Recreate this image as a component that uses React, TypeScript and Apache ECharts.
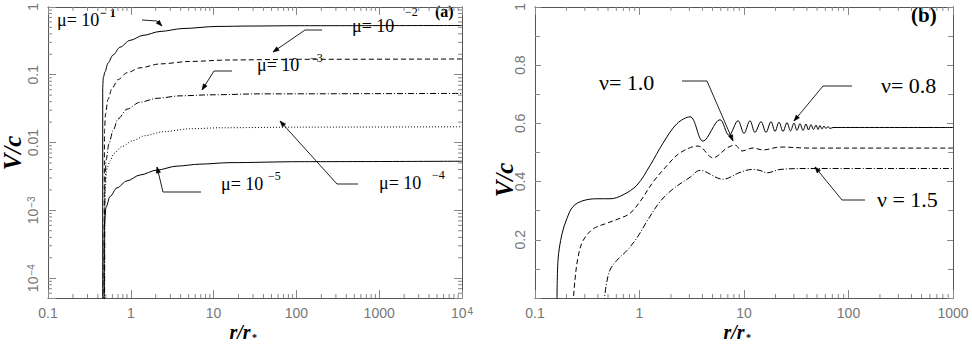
import React, { useEffect, useRef } from "react";
import * as echarts from "echarts";

// ---------------- Panel (a): V/c vs r/r* for several mu (log-log) ----------------
const mu1e1: [number, number][] = [
  [0.4576, 2e-5], [0.458, 0.0648], [0.4654, 0.0905], [0.488, 0.1105], [0.5305, 0.149],
  [0.6095, 0.195], [0.7407, 0.2545], [0.978, 0.321], [1.404, 0.38], [2.253, 0.434],
  [4.27, 0.48], [10.99, 0.515], [27.5, 0.522], [110, 0.528], [10000, 0.532],
];
const mu1e2: [number, number][] = [
  [0.4745, 2e-5], [0.4812, 0.015], [0.4948, 0.0263], [0.5305, 0.0434], [0.5928, 0.0627],
  [0.7005, 0.0846], [0.8997, 0.1069], [1.291, 0.1263], [2.253, 0.1443], [5.188, 0.157],
  [15.78, 0.165], [110, 0.1688], [10000, 0.1705],
];
const mu1e3: [number, number][] = [
  [0.4812, 2e-5], [0.488, 0.0025], [0.5018, 0.00548], [0.5454, 0.00967], [0.6095, 0.01493],
  [0.7005, 0.0223], [0.8997, 0.0311], [1.291, 0.0393], [2.072, 0.0449], [3.929, 0.0488],
  [9.05, 0.0505], [36.3, 0.0522], [10000, 0.053],
];
const mu1e4: [number, number][] = [
  [0.4812, 2e-5], [0.4848, 0.001], [0.488, 0.00201], [0.516, 0.0042], [0.5608, 0.0053],
  [0.6267, 0.00693], [0.7831, 0.00875], [1.063, 0.01069], [1.484, 0.01263], [2.448, 0.01443],
  [5.188, 0.01595], [11.95, 0.0165], [110, 0.01688], [10000, 0.01705],
];
const mu1e5: [number, number][] = [
  [0.4745, 2e-5], [0.476, 0.000344], [0.4812, 0.00067], [0.5018, 0.00111], [0.5608, 0.0016],
  [0.6813, 0.00215], [0.8997, 0.00272], [1.291, 0.00332], [2.072, 0.00393], [3.614, 0.00449],
  [6.849, 0.0048], [15.78, 0.00505], [110, 0.00522], [10000, 0.0053],
];

// ---------------- Panel (b): V/c vs r/r* for several nu (log-lin) ----------------
const nu10: [number, number][] = [
  [0.1624, -0.02], [0.166, 0.1297], [0.1813, 0.2203], [0.2025, 0.2739], [0.231, 0.3141],
  [0.2879, 0.3342], [0.392, 0.3409], [0.5221, 0.3409], [0.6951, 0.3543], [0.9465, 0.3879],
  [1.26, 0.4549], [1.679, 0.532], [2.285, 0.599], [3.043, 0.6225], [4.053, 0.5387],
  [5.892, 0.6125], [7.186, 0.5588], [8.76, 0.609], [10.0, 0.5655], [11.41, 0.609],
  [12.74, 0.5689], [14.54, 0.6058], [16.24, 0.5689], [18.13, 0.6058], [19.81, 0.5722],
  [21.63, 0.604], [23.62, 0.5722], [25.79, 0.6024], [27.86, 0.5739], [30.1, 0.6007],
  [32.15, 0.5756], [34.35, 0.599], [36.69, 0.5756], [39.2, 0.5974], [41.4, 0.5773],
  [43.8, 0.5957], [46.2, 0.579], [48.9, 0.594], [51.1, 0.579], [53.3, 0.5924],
  [55.7, 0.5806], [58.3, 0.5907], [60.9, 0.5823], [63.7, 0.589], [66.5, 0.5823],
  [71.1, 0.5857], [1000, 0.5857],
];
const nu08: [number, number][] = [
  [0.231, -0.02], [0.2414, 0.0627], [0.2579, 0.1398], [0.2879, 0.1968], [0.3589, 0.237],
  [0.4887, 0.2571], [0.6506, 0.2739], [0.8112, 0.2906], [1.011, 0.3309], [1.346, 0.3979],
  [1.833, 0.4549], [2.441, 0.4985], [3.629, 0.522], [5.05, 0.4817], [6.876, 0.5153],
  [8.203, 0.5253], [9.57, 0.5052], [12.2, 0.5153], [15.2, 0.5086], [22.11, 0.5186],
  [42.8, 0.515], [1000, 0.515],
];
const nu15: [number, number][] = [
  [0.4573, -0.02], [0.4779, 0.0392], [0.5221, 0.0962], [0.6091, 0.1297], [0.7593, 0.1633],
  [0.9465, 0.2068], [1.18, 0.2638], [1.571, 0.3309], [2.092, 0.3745], [3.043, 0.4147],
  [3.793, 0.4382], [6.295, 0.408], [9.157, 0.4315], [11.93, 0.4415], [14.23, 0.4382],
  [16.6, 0.43], [22.11, 0.4415], [42.8, 0.4449], [1000, 0.4449],
];

// axis ranges
const aXRange: [number, number] = [0.1, 10000];
const aYRange: [number, number] = [5.1e-5, 1];
const bXRange: [number, number] = [0.1, 1000];
const bYRange: [number, number] = [0, 1];
const minorMultipliers = [2, 3, 4, 5, 6, 7, 8, 9];

const AXIS = "#555";
const TICK = "#888";
const LABEL = "#777";
const SANS = "Liberation Sans, Arial, sans-serif";
const SERIF = "Liberation Serif, Times New Roman, serif";

function logMinor(min: number, max: number): number[] {
  const out: number[] = [];
  for (let e = Math.floor(Math.log10(min)); e < Math.ceil(Math.log10(max)); e++) {
    for (const m of minorMultipliers) {
      const v = m * Math.pow(10, e);
      if (v > min * 1.0001 && v < max * 0.9999) out.push(v);
    }
  }
  return out;
}

function logLabel(v: number): string {
  const e = Math.log10(v);
  const k = Math.round(e);
  if (Math.abs(e - k) > 1e-6) return "";
  if (k >= 4) return `{b|10}{p|${k}}`;
  if (k <= -3) return `{b|10}{p|\u2212${-k}}`;
  if (k >= 0) return String(Math.pow(10, k));
  return k === -1 ? "0.1" : "0.01";
}

const richLabel = {
  b: { fontSize: 14, fontFamily: SANS, color: LABEL, lineHeight: 14 },
  p: { fontSize: 10, fontFamily: SANS, color: LABEL, verticalAlign: "top" as const, padding: [0, 0, 8, 1] },
};

function lineSeries(data: [number, number][], dash: any, xi: number, yi: number, monotone: boolean) {
  return {
    type: "line",
    data,
    xAxisIndex: xi,
    yAxisIndex: yi,
    showSymbol: false,
    symbol: "none",
    smooth: monotone ? 0.3 : 0.35,
    smoothMonotone: monotone ? "x" : undefined,
    silent: true,
    z: 3,
    lineStyle: { color: "#000", width: 1, type: dash },
  };
}

function xMinorSeries(xi: number, yi: number, vals: number[], yMin: number, yMax: number, len: number) {
  return {
    type: "custom",
    xAxisIndex: xi,
    yAxisIndex: yi,
    silent: true,
    clip: false,
    z: 4,
    data: vals.map((v) => [v, yMin]),
    renderItem: (_p: any, api: any) => {
      const v = api.value(0);
      const b = api.coord([v, yMin]);
      const t = api.coord([v, yMax]);
      return {
        type: "group",
        children: [
          { type: "line", shape: { x1: b[0], y1: b[1], x2: b[0], y2: b[1] - len }, style: { stroke: TICK, lineWidth: 1 } },
          { type: "line", shape: { x1: t[0], y1: t[1], x2: t[0], y2: t[1] + len }, style: { stroke: TICK, lineWidth: 1 } },
        ],
      };
    },
  };
}

function yMinorSeries(xi: number, yi: number, vals: number[], xMin: number, xMax: number, len: number) {
  return {
    type: "custom",
    xAxisIndex: xi,
    yAxisIndex: yi,
    silent: true,
    clip: false,
    z: 4,
    data: vals.map((v) => [xMin, v]),
    renderItem: (_p: any, api: any) => {
      const v = api.value(1);
      const l = api.coord([xMin, v]);
      const r = api.coord([xMax, v]);
      return {
        type: "group",
        children: [
          { type: "line", shape: { x1: l[0], y1: l[1], x2: l[0] + len, y2: l[1] }, style: { stroke: TICK, lineWidth: 1 } },
          { type: "line", shape: { x1: r[0], y1: r[1], x2: r[0] - len, y2: r[1] }, style: { stroke: TICK, lineWidth: 1 } },
        ],
      };
    },
  };
}

function txt(x: number, y: number, text: string, size: number, extra: any = {}) {
  return {
    type: "text",
    x,
    y,
    silent: true,
    rotation: extra.rotation || 0,
    style: {
      text,
      fontSize: size,
      fontFamily: SERIF,
      fontWeight: extra.weight || "normal",
      fontStyle: extra.style || "normal",
      fill: "#000",
      align: extra.align || "left",
      verticalAlign: "middle",
      lineHeight: extra.lineHeight,
    },
  };
}

function arrow(points: number[][]) {
  const n = points.length;
  const [tx, ty] = points[n - 1];
  const [px, py] = points[n - 2];
  const dx = tx - px, dy = ty - py;
  const L = Math.hypot(dx, dy);
  const ux = dx / L, uy = dy / L;
  const hl = 6, hw = 2.2;
  const bx = tx - ux * hl, by = ty - uy * hl;
  return [
    { type: "polyline", silent: true, shape: { points }, style: { stroke: "#222", lineWidth: 1, fill: null } },
    {
      type: "polygon",
      silent: true,
      shape: { points: [[tx, ty], [bx - uy * hw, by + ux * hw], [bx + uy * hw, by - ux * hw]] },
      style: { fill: "#000", stroke: "#000", lineWidth: 0.5 },
    },
  ];
}

function logAxis(gridIndex: number, range: [number, number], position: string, showLabel: boolean, isY: boolean) {
  return {
    type: "log",
    logBase: 10,
    gridIndex,
    position,
    min: range[0],
    max: range[1],
    axisLine: { show: true, onZero: false, lineStyle: { color: AXIS, width: 1 } },
    axisTick: { show: true, inside: true, length: 8, lineStyle: { color: TICK } },
    splitLine: { show: false },
    axisLabel: {
      show: showLabel,
      formatter: logLabel,
      rotate: isY ? 90 : 0,
      margin: isY ? 8 : 8,
      fontSize: 14,
      lineHeight: 14,
      fontFamily: SANS,
      color: LABEL,
      rich: richLabel,
    },
  };
}

function linAxis(gridIndex: number, range: [number, number], position: string, showLabel: boolean) {
  return {
    type: "value",
    gridIndex,
    position,
    min: range[0],
    max: range[1],
    interval: 0.2,
    axisLine: { show: true, onZero: false, lineStyle: { color: AXIS, width: 1 } },
    axisTick: { show: true, inside: true, length: 6, lineStyle: { color: TICK } },
    minorTick: { show: true, splitNumber: 2, length: 5, lineStyle: { color: TICK } },
    splitLine: { show: false },
    axisLabel: {
      show: showLabel,
      showMinLabel: false,
      rotate: 90,
      margin: 8,
      fontSize: 14,
      lineHeight: 14,
      fontFamily: SANS,
      color: LABEL,
      formatter: (v: number) => (Math.abs(v - 1) < 1e-9 ? "1" : v.toFixed(1)),
    },
  };
}

export default function App() {
  const ref = useRef<HTMLDivElement>(null);
  useEffect(() => {
    if (!ref.current) return;
    const chart = echarts.init(ref.current, null, { renderer: "svg" });
    const graphics: any[] = [
      // panel labels
      txt(435, 11, "(a)", 16, { weight: "bold" }),
      txt(911, 15, "(b)", 21, { weight: "bold" }),
      // axis names
      txt(12, 153, "V/c", 25, { weight: "bold", style: "italic", align: "center", rotation: Math.PI / 2 }),
      txt(504, 180, "V/c", 25, { weight: "bold", style: "italic", align: "center", rotation: Math.PI / 2 }),
      txt(240, 332, "r/r", 20, { weight: "bold", style: "italic", align: "center", lineHeight: 16 }),
      txt(252, 337, "*", 10, { weight: "bold", lineHeight: 8 }),
      txt(734, 332, "r/r", 20, { weight: "bold", style: "italic", align: "center", lineHeight: 16 }),
      txt(746, 337, "*", 10, { weight: "bold", lineHeight: 8 }),
      // mu annotations
      txt(57, 20, "\u03bc= 10", 18),
      txt(100, 13, "\u2212 1", 12, { weight: "bold" }),
      txt(352, 26, "\u03bc= 10", 18),
      txt(405, 12, "\u22122", 12),
      txt(257, 65, "\u03bc= 10", 18),
      txt(310, 58, "\u22123", 12),
      txt(379, 183, "\u03bc= 10", 18),
      txt(432, 175, "\u22124", 12),
      txt(221, 184, "\u03bc= 10", 18),
      txt(268, 176, "\u22125", 12),
      // nu annotations
      txt(599, 82, "\u03bd= 1.0", 22),
      txt(881, 85, "\u03bd= 0.8", 22),
      txt(877, 199, "\u03bd = 1.5", 22),
      ...arrow([[142, 20], [157, 21], [162, 26]]),
      ...arrow([[322, 30], [305, 30], [273, 52]]),
      ...arrow([[232, 71], [214, 71], [202, 90]]),
      ...arrow([[358, 184], [337, 184], [280, 121]]),
      ...arrow([[201, 192], [163, 192], [157, 167]]),
      ...arrow([[682, 81], [707, 81], [733, 141]]),
      ...arrow([[852, 86], [823, 86], [794, 121]]),
      ...arrow([[865, 200], [842, 200], [815, 167]]),
    ];

    chart.setOption({
      animation: false,
      backgroundColor: "#fff",
      grid: [
        { left: 48, top: 1, width: 414, height: 297, containLabel: false },
        { left: 535, top: 1, width: 418, height: 297, containLabel: false },
      ],
      xAxis: [
        logAxis(0, aXRange, "bottom", true, false),
        logAxis(0, aXRange, "top", false, false),
        logAxis(1, bXRange, "bottom", true, false),
        logAxis(1, bXRange, "top", false, false),
      ],
      yAxis: [
        logAxis(0, aYRange, "left", true, true),
        logAxis(0, aYRange, "right", false, true),
        linAxis(1, bYRange, "left", true),
        linAxis(1, bYRange, "right", false),
      ],
      series: [
        lineSeries(mu1e1, "solid", 0, 0, true),
        lineSeries(mu1e2, [5, 3], 0, 0, true),
        lineSeries(mu1e3, [6, 2, 1, 2], 0, 0, true),
        lineSeries(mu1e4, [1, 2], 0, 0, true),
        lineSeries(mu1e5, "solid", 0, 0, true),
        lineSeries(nu10, "solid", 2, 2, false),
        lineSeries(nu08, [5, 3], 2, 2, false),
        lineSeries(nu15, [6, 2, 1, 2], 2, 2, false),
        xMinorSeries(0, 0, logMinor(aXRange[0], aXRange[1]), aYRange[0], aYRange[1], 4),
        yMinorSeries(0, 0, logMinor(aYRange[0], aYRange[1]), aXRange[0], aXRange[1], 4),
        xMinorSeries(2, 2, logMinor(bXRange[0], bXRange[1]), bYRange[0], bYRange[1], 4),
      ],
      graphic: graphics,
    });
    return () => chart.dispose();
  }, []);
  return (
    <div
      ref={ref}
      style={{ position: "absolute", left: 0, top: 0, width: 972, height: 345, background: "#fff" }}
    />
  );
}
